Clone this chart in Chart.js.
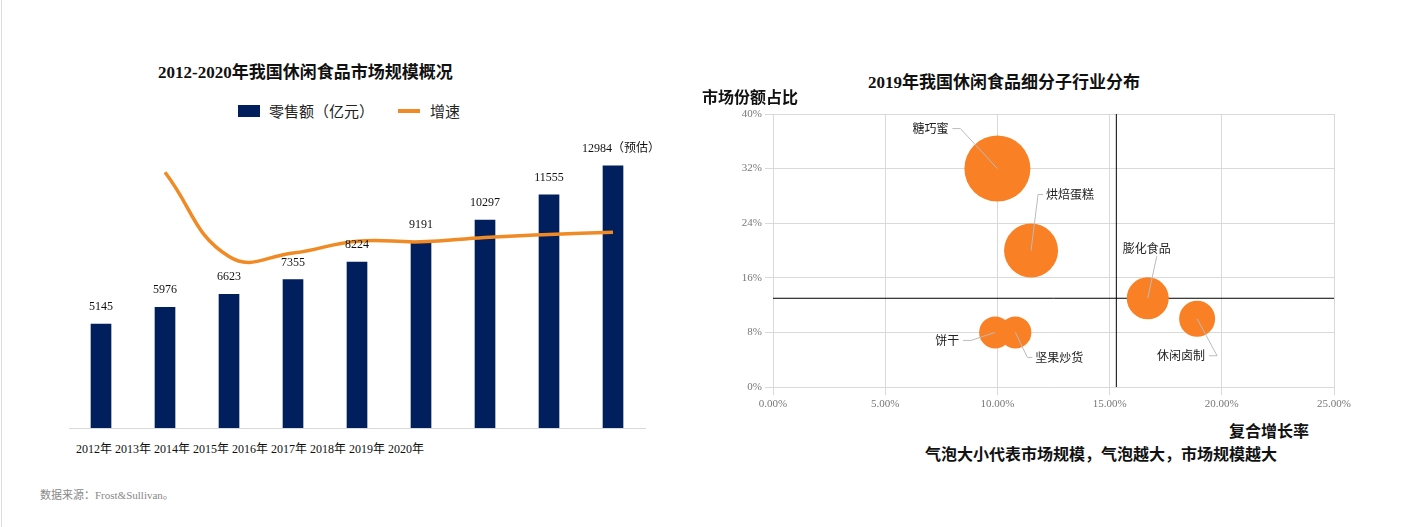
<!DOCTYPE html>
<html><head><meta charset="utf-8">
<script src="https://cdn.jsdelivr.net/npm/chart.js@4"></script>
<style>
body{margin:0;width:1401px;height:527px;background:#fff;position:relative;overflow:hidden;font-family:"Liberation Serif","Noto Sans CJK SC",serif}
.abs{position:absolute;white-space:nowrap}
canvas{position:absolute}
</style></head><body>
<div class="abs" style="left:1px;top:0;width:1px;height:527px;background:#ddd"></div>
<div class="abs" style="left:158px;top:58px;font-size:17px;font-weight:bold;color:#111">2012-2020年我国休闲食品市场规模概况</div>
<div class="abs" style="left:238px;top:100px;font-size:15px;font-family:'Noto Sans CJK SC',sans-serif;color:#222"><span style="display:inline-block;width:22px;height:12px;background:#001f5c;margin-right:9px"></span>零售额（亿元）<span style="display:inline-block;width:22px;height:4px;background:#f08a24;margin:0 10px 4px 24px;vertical-align:middle"></span>增速</div>
<div class="abs" style="left:76px;top:439px;font-size:12px;color:#111">2012年 2013年 2014年 2015年 2016年 2017年 2018年 2019年 2020年</div>
<div class="abs" style="left:40px;top:486px;font-size:11px;color:#888">数据来源：Frost&amp;Sullivan。</div>
<canvas id="c1" width="650" height="335" style="left:69px;top:105px;width:650px;height:335px"></canvas>

<div class="abs" style="left:868px;top:68px;font-size:17px;font-weight:bold;color:#111">2019年我国休闲食品细分子行业分布</div>
<div class="abs" style="left:702px;top:84px;font-size:16px;font-weight:bold;font-family:'Noto Sans CJK SC',sans-serif;color:#111">市场份额占比</div>
<div class="abs" style="left:1229px;top:420px;font-size:16px;line-height:20px;font-weight:bold;font-family:'Noto Sans CJK SC',sans-serif;color:#111">复合增长率</div>
<div class="abs" style="left:925px;top:443px;font-size:16px;line-height:20px;font-weight:bold;font-family:'Noto Sans CJK SC',sans-serif;color:#111">气泡大小代表市场规模，气泡越大，市场规模越大</div>
<canvas id="c2" width="667" height="339" style="left:700px;top:81px;width:667px;height:339px"></canvas>
<script>
const years = ['2012','2013','2014','2015','2016','2017','2018','2019','2020'];
const sales = [5145, 5976, 6623, 7355, 8224, 9191, 10297, 11555, 12984];
const salesLabels = ['5145','5976','6623','7355','8224','9191','10297','11555','12984（预估）'];
const growth = [null, 16.15, 10.83, 11.05, 11.8, 11.76, 12.03, 12.22, 12.37];

const segNames = ['糖巧蜜','烘焙蛋糕','膨化食品','休闲卤制','饼干','坚果炒货'];
const segGrowth = [10.0, 11.5, 16.7, 18.9, 9.9, 10.8];
const segShare = [32, 20, 13, 10, 8, 8];
const segSize = [33, 27, 21, 18, 16, 16];
const crossX = 15.3, crossY = 13;

const barLabels = {
  id: 'barLabels',
  afterDatasetsDraw(chart) {
    const ctx = chart.ctx, meta = chart.getDatasetMeta(1);
    ctx.save();
    ctx.font = '12px "Liberation Serif","Noto Sans CJK SC",serif';
    ctx.fillStyle = '#111'; ctx.textAlign = 'center';
    meta.data.forEach((b, i) => ctx.fillText(salesLabels[i], b.x + (i === 8 ? 8 : 0), b.y - 14));
    ctx.restore();
  }
};

new Chart(document.getElementById('c1'), {
  data: {
    labels: years,
    datasets: [
      {type: 'line', data: growth, yAxisID: 'y2', borderColor: '#f08a24', borderWidth: 3.5,
       pointRadius: 0, tension: 0.45, order: 0},
      {type: 'bar', data: sales, backgroundColor: '#001f5c', barThickness: 20, order: 1}
    ]
  },
  options: {
    responsive: false, animation: false, devicePixelRatio: 1,
    layout: {padding: {right: 74, bottom: 12}},
    plugins: {legend: {display: false}, tooltip: {enabled: false}},
    scales: {
      x: {display: true, grid: {display: false}, border: {color: '#d9d9d9'}, ticks: {display: false},
          afterFit: s => { s.height = 0; }},
      y: {display: false, min: 0, max: 16000},
      y2: {display: false, min: 0, max: 20.4}
    }
  },
  plugins: [barLabels]
});

const bubbleDecor = {
  id: 'bubbleDecor',
  beforeDatasetsDraw(chart) {
    const {ctx, chartArea: a, scales: {x, y}} = chart;
    ctx.save();
    ctx.strokeStyle = '#000'; ctx.lineWidth = 1;
    const px = x.getPixelForValue(crossX), py = y.getPixelForValue(crossY);
    ctx.beginPath();
    ctx.moveTo(px, a.top); ctx.lineTo(px, a.bottom);
    ctx.moveTo(a.left, py); ctx.lineTo(a.right, py);
    ctx.stroke();
    ctx.restore();
  },
  afterDatasetsDraw(chart) {
    const {ctx, scales: {x, y}} = chart;
    // label offsets (dx,dy of text) and leader lines
    const off = [[-85, -40], [15, -56], [-25, -50], [-40, 37], [-60, 8], [20, 25]];
    ctx.save();
    ctx.font = '12px "Noto Sans CJK SC",sans-serif';
    ctx.fillStyle = '#222'; ctx.strokeStyle = '#bbb'; ctx.lineWidth = 1;
    segNames.forEach((n, i) => {
      const cx = x.getPixelForValue(segGrowth[i]), cy = y.getPixelForValue(segShare[i]);
      const tx = cx + off[i][0], ty = cy + off[i][1];
      const w = ctx.measureText(n).width;
      ctx.beginPath();
      if (off[i][0] < 0 && i !== 2) {
        ctx.moveTo(tx + w + 4, ty); ctx.lineTo(tx + w + 12, ty); ctx.lineTo(cx, cy);
      } else if (i === 2) {
        ctx.moveTo(tx + w / 2 + 10, ty + 8); ctx.lineTo(cx, cy);
      } else {
        ctx.moveTo(tx - 3, ty); ctx.lineTo(tx - 8, ty); ctx.lineTo(cx, cy);
      }
      ctx.stroke();
      ctx.textBaseline = 'middle';
      ctx.fillText(n, tx, ty);
    });
    ctx.restore();
  }
};

new Chart(document.getElementById('c2'), {
  type: 'bubble',
  data: {
    datasets: [{
      data: segNames.map((n, i) => ({x: segGrowth[i], y: segShare[i], r: segSize[i]})),
      backgroundColor: '#f98024', borderWidth: 0
    }]
  },
  options: {
    responsive: false, animation: false, devicePixelRatio: 1,
    layout: {padding: {top: 13, right: 15, left: 0, bottom: 0}},
    plugins: {legend: {display: false}, tooltip: {enabled: false}},
    scales: {
      x: {min: 0, max: 25, grid: {color: '#d9d9d9'}, border: {display: false},
          ticks: {stepSize: 5, maxRotation: 0, color: '#777', font: {family: 'Liberation Serif', size: 11},
                  callback: v => v.toFixed(2) + '%'},
          afterFit: s => { s.height = 33; }},
      y: {min: 0, max: 40, grid: {color: '#d9d9d9'}, border: {display: false},
          ticks: {stepSize: 8, color: '#777', font: {family: 'Liberation Serif', size: 11},
                  callback: v => v + '%'},
          afterFit: s => { s.width = 73; }}
    }
  },
  plugins: [bubbleDecor]
});
</script>
</body></html>
